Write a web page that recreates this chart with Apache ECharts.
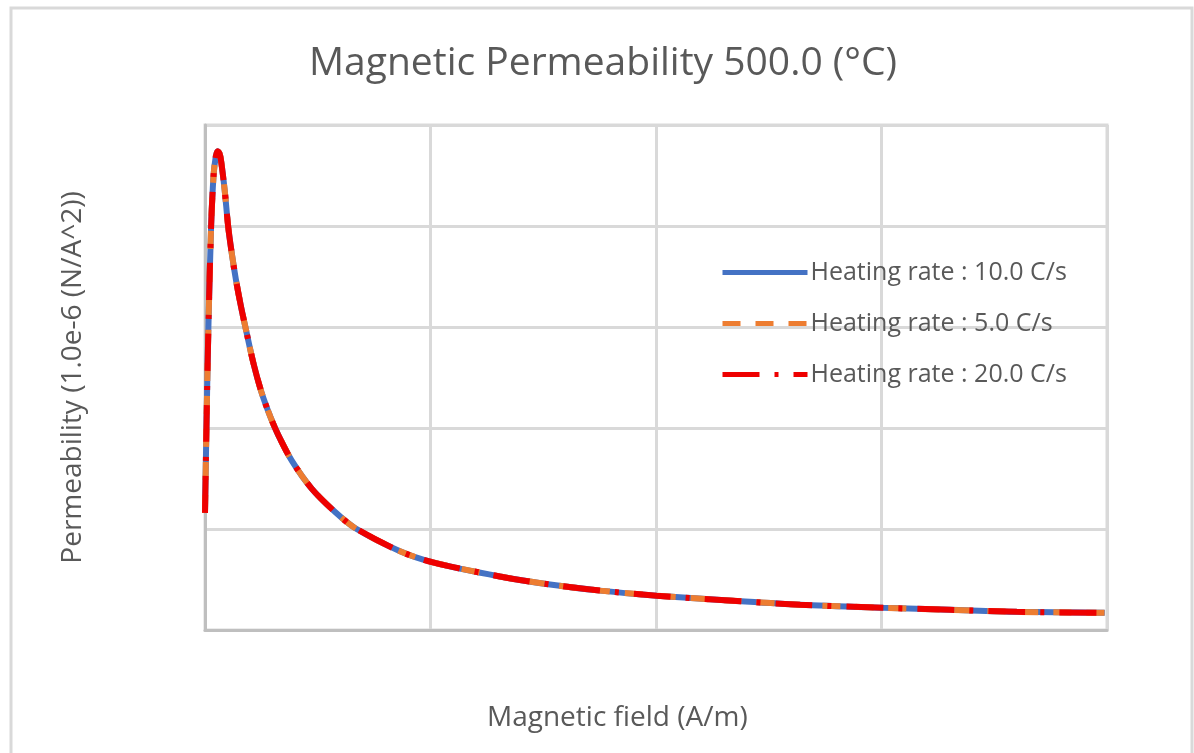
<!DOCTYPE html>
<html>
<head>
<meta charset="utf-8">
<script src="https://cdn.jsdelivr.net/npm/echarts@6/dist/echarts.min.js"></script>
<style>
  html, body { margin: 0; padding: 0; background: #ffffff; }
  #chart { width: 1194px; height: 753px; }
</style>
</head>
<body>
<div id="chart"></div>
<script>
// Magnetic field samples (A/m)
const fieldValues = [0, 7, 15, 27, 38, 48, 56, 64, 71, 87, 103, 120, 137, 158, 180, 215, 251, 290, 325, 384, 473, 576, 665, 865, 1011, 1308, 1530, 1752, 2003, 2341, 2639, 3007, 3304, 3600, 3990];
// Permeability (1.0e-6 N/A^2) for each heating rate
const rate10 = [1.16, 2.08, 2.99, 3.99, 4.50, 4.69, 4.74, 4.72, 4.65, 4.36, 3.99, 3.71, 3.47, 3.22, 2.99, 2.64, 2.35, 2.11, 1.93, 1.68, 1.40, 1.17, 1.01, 0.78, 0.67, 0.53, 0.45, 0.39, 0.34, 0.29, 0.25, 0.22, 0.20, 0.18, 0.17];
const rate5  = [1.16, 2.08, 2.99, 3.99, 4.50, 4.69, 4.74, 4.72, 4.65, 4.36, 3.99, 3.71, 3.47, 3.22, 2.99, 2.64, 2.35, 2.11, 1.93, 1.68, 1.40, 1.17, 1.01, 0.78, 0.67, 0.53, 0.45, 0.39, 0.34, 0.29, 0.25, 0.22, 0.20, 0.18, 0.17];
const rate20 = [1.16, 2.08, 2.99, 3.99, 4.50, 4.69, 4.74, 4.72, 4.65, 4.36, 3.99, 3.71, 3.47, 3.22, 2.99, 2.64, 2.35, 2.11, 1.93, 1.68, 1.40, 1.17, 1.01, 0.78, 0.67, 0.53, 0.45, 0.39, 0.34, 0.29, 0.25, 0.22, 0.20, 0.18, 0.17];
const seriesNames = ['Heating rate : 10.0 C/s', 'Heating rate : 5.0 C/s', 'Heating rate : 20.0 C/s'];

const pairs = (ys) => fieldValues.map((x, i) => [x, ys[i]]);

const FONT = '"Open Sans", "Noto Sans", sans-serif';
const TEXT = '#595959';

const chart = echarts.init(document.getElementById('chart'), null, { renderer: 'canvas' });

chart.setOption({
  backgroundColor: '#ffffff',
  animation: false,
  title: [
    {
      text: 'Magnetic Permeability 500.0 (°C)',
      left: 304,
      top: 39,
      textStyle: { fontFamily: FONT, fontSize: 39, fontWeight: 'normal', color: TEXT }
    },
    {
      text: 'Magnetic field (A/m)',
      left: 482,
      top: 699,
      textStyle: { fontFamily: FONT, fontSize: 28, fontWeight: 'normal', color: TEXT }
    }
  ],
  graphic: [
    {
      type: 'rect',
      shape: { x: 11, y: 8, width: 1181, height: 770 },
      style: { fill: 'none', stroke: '#d9d9d9', lineWidth: 3 },
      silent: true,
      z: -1
    }
  ],
  grid: { left: 205, top: 125, width: 902, height: 505, show: true, borderColor: '#d9d9d9', borderWidth: 3 },
  legend: {
    orient: 'vertical',
    left: 715,
    top: 255,
    itemWidth: 85,
    itemHeight: 14,
    itemGap: 26,
    itemStyle: { opacity: 0 },
    lineStyle: { width: 5 },
    textStyle: { fontFamily: FONT, fontSize: 25, color: TEXT, padding: [0, 0, 0, -2] },
    data: seriesNames
  },
  xAxis: {
    type: 'value',
    min: 0,
    max: 4000,
    interval: 1000,
    axisLine: { show: true, lineStyle: { color: '#bfbfbf', width: 3 } },
    axisTick: { show: false },
    axisLabel: { show: false },
    splitLine: { show: true, lineStyle: { color: '#d9d9d9', width: 3 } }
  },
  yAxis: {
    type: 'value',
    min: 0,
    max: 5,
    interval: 1,
    name: 'Permeability (1.0e-6 (N/A^2))',
    nameLocation: 'middle',
    nameRotate: 90,
    nameGap: 118,
    nameTextStyle: { fontFamily: FONT, fontSize: 28, color: TEXT },
    axisLine: { show: true, lineStyle: { color: '#bfbfbf', width: 3 } },
    axisTick: { show: false },
    axisLabel: { show: false },
    splitLine: { show: true, lineStyle: { color: '#d9d9d9', width: 3 } }
  },
  series: [
    {
      name: seriesNames[0],
      type: 'line',
      data: pairs(rate10),
      smooth: 0.3,
      symbol: 'none',
      lineStyle: { color: '#4472c4', width: 6, type: 'solid' },
      itemStyle: { color: '#4472c4' },
      z: 2
    },
    {
      name: seriesNames[1],
      type: 'line',
      data: pairs(rate5),
      smooth: 0.3,
      symbol: 'none',
      lineStyle: { color: '#ed7d31', width: 6, type: [18, 15], cap: 'butt' },
      itemStyle: { color: '#ed7d31' },
      z: 3
    },
    {
      name: seriesNames[2],
      type: 'line',
      data: pairs(rate20),
      smooth: 0.3,
      symbol: 'none',
      lineStyle: { color: '#ee0000', width: 6, type: [37, 15, 4, 15], cap: 'butt' },
      itemStyle: { color: '#ee0000' },
      z: 4
    }
  ]
});
</script>
</body>
</html>
